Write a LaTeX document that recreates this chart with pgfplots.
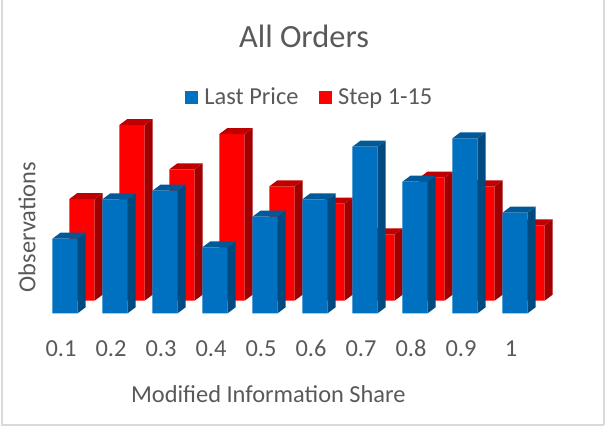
\documentclass[border=0pt]{standalone}
\usepackage{pgfplots}
\usepackage{pgfplotstable}
\pgfplotsset{compat=1.18}
\usepackage{fontspec}
\setmainfont{Carlito}
\definecolor{txt}{HTML}{595959}
\definecolor{bfront}{HTML}{0070C0}
\definecolor{bside}{HTML}{004A80}
\definecolor{btop}{HTML}{005A9A}
\definecolor{rfront}{HTML}{FF0000}
\definecolor{rside}{HTML}{A00000}
\definecolor{rtop}{HTML}{C00000}
\pgfplotstableread{
x h
0 74.6
1 114
2 122.6
3 66
4 96.6
5 114
6 166.6
7 131.6
8 175
9 100.6
}\lastprice
\pgfplotstableread{
x h
0 101.7
1 175.7
2 131.4
3 166.7
4 114.4
5 97
6 66.4
7 123
8 114.4
9 75.4
}\stepone
% side and top faces of a 3D bar, drawn from the top-centre of the bar; 1px = 0.75pt
\pgfdeclareplotmark{depth}{%
  \pgfsetfillcolor{sidecol}%
  \pgfpathmoveto{\pgfqpoint{9.45pt}{0pt}}%
  \pgfpathlineto{\pgfqpoint{15.45pt}{4.5pt}}%
  \pgfpathlineto{\pgfpoint{15.45pt}{4.5pt-\h*0.75pt}}%
  \pgfpathlineto{\pgfpoint{9.45pt}{-\h*0.75pt}}%
  \pgfpathclose\pgfusepath{fill}%
  \pgfsetfillcolor{topcol}%
  \pgfpathmoveto{\pgfqpoint{-9.45pt}{0pt}}%
  \pgfpathlineto{\pgfqpoint{-3.45pt}{4.5pt}}%
  \pgfpathlineto{\pgfqpoint{15.45pt}{4.5pt}}%
  \pgfpathlineto{\pgfqpoint{9.45pt}{0pt}}%
  \pgfpathclose\pgfusepath{fill}%
}
\pgfplotsset{
  barsaxis/.style={
    scale only axis, width=453.75pt, height=234.975pt,
    xmin=-1.3, xmax=10.8, ymin=0, ymax=313.3,
    axis line style={draw=none}, ytick=\empty, clip=false,
  },
  depthplot/.style={
    only marks, mark=depth,
    visualization depends on={\thisrow{h} \as \h},
    forget plot,
  },
}
\begin{document}
\begin{tikzpicture}[x=1pt,y=1pt]
\path[use as bounding box] (0,0) rectangle (453.75,324.75);
\draw[color=black!15,line width=1.2pt] (1.5,325.5) -- (1.5,6.2) -- (453,6.2) (452.9,6.2) -- (452.9,325.5);
\colorlet{sidecol}{rside}\colorlet{topcol}{rtop}
\begin{axis}[barsaxis, at={(12.75pt,99.225pt)}, anchor=south west, xtick=\empty]
\addplot[ybar, bar width=18.9pt, bar shift=0pt, fill=rfront, draw=none, forget plot] table[x=x,y=h] {\stepone};
\addplot[depthplot] table[x=x,y=h] {\stepone};
\end{axis}
\colorlet{sidecol}{bside}\colorlet{topcol}{btop}
\begin{axis}[barsaxis, at={(0pt,89.775pt)}, anchor=south west,
  font=\fontsize{13.7pt}{16pt}\selectfont,
  xtick={0,...,9}, xticklabels={0.1,0.2,0.3,0.4,0.5,0.6,0.7,0.8,0.9,1},
  major tick length=0pt,
  /pgf/number format/assume math mode=true,
  xticklabel style={text=txt, xshift=-3pt, yshift=-16.5pt, text height=12pt, text depth=0pt, font=\fontsize{18.3pt}{20pt}\selectfont},
  title={All Orders},
  title style={at={(axis description cs:0.5025,1)}, anchor=center, yshift=-33pt, text=txt, font=\fontsize{24.3pt}{28pt}\selectfont},
  xlabel={Modified Information Share},
  xlabel style={at={(axis description cs:0.4435,0)}, anchor=center, yshift=-60.5pt, text=txt, font=\fontsize{18.3pt}{20pt}\selectfont},
  ylabel={Observations},
  ylabel style={at={(axis description cs:0.0445,0.275)}, anchor=center, rotate=0, text=txt, font=\fontsize{18.3pt}{20pt}\selectfont},
  legend columns=2,
  legend style={at={(axis description cs:0.305,0.69)}, anchor=west, draw=none, fill=none,
     /tikz/every even column/.append style={column sep=13pt},
     text=txt, font=\fontsize{18.3pt}{20pt}\selectfont, inner sep=0pt, row sep=0pt},
  legend cell align=left,
]
\addplot[ybar, bar width=18.9pt, bar shift=0pt, fill=bfront, draw=none, forget plot] table[x=x,y=h] {\lastprice};
\addplot[depthplot] table[x=x,y=h] {\lastprice};
\addlegendimage{legend image code/.code={\fill[bfront,draw=none] (0,-5pt) rectangle (9.75pt,4.75pt);\path[draw=none,fill=none] (0,0) rectangle (12.75pt,0.1pt);}}
\addlegendentry{Last Price}
\addlegendimage{legend image code/.code={\fill[rfront,draw=none] (0,-5pt) rectangle (9.75pt,4.75pt);\path[draw=none,fill=none] (0,0) rectangle (12.75pt,0.1pt);}}
\addlegendentry{Step 1-15}
\end{axis}
\end{tikzpicture}
\end{document}
